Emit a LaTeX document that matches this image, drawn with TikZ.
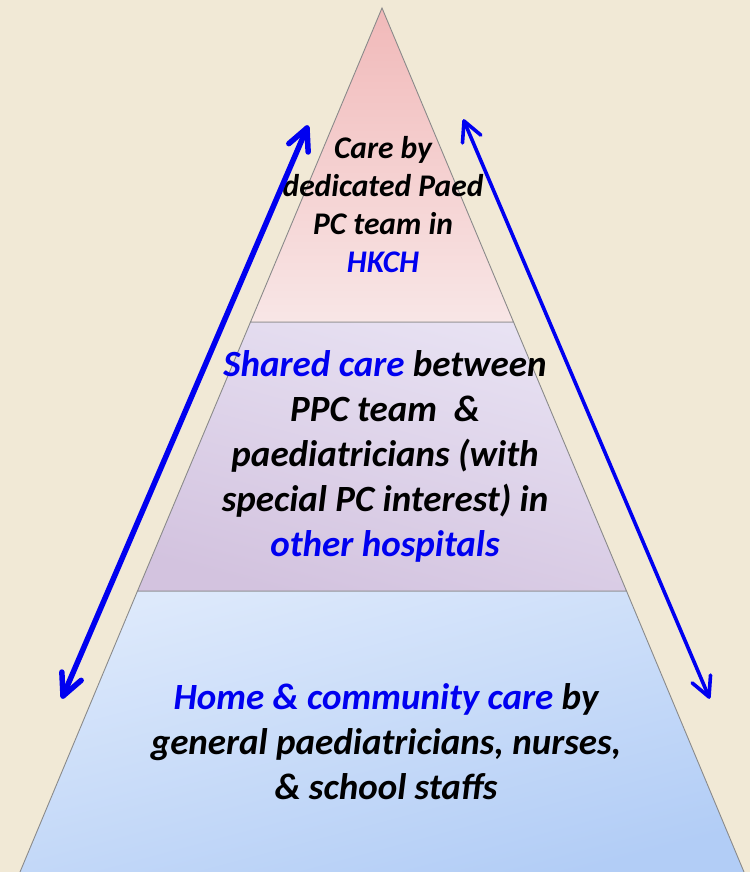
\documentclass[tikz,border=0pt]{standalone}
\usepackage{fontspec}
\setmainfont{Carlito}
\usetikzlibrary{calc}
\definecolor{bg}{HTML}{F1E9D6}
\definecolor{pinkT}{HTML}{F1B9B9}
\definecolor{pinkB}{HTML}{F8E6E6}
\definecolor{lavT}{HTML}{E8E2F3}
\definecolor{lavB}{HTML}{D3C3DF}
\definecolor{bluT}{HTML}{DDE9FB}
\definecolor{bluB}{HTML}{B2CDF6}
\definecolor{edge}{HTML}{8A8A8A}
\definecolor{hl}{HTML}{0000F0}
\tikzset{
  tier/.style={draw=edge, line width=0.9pt},
  bigtxt/.style={align=center, font=\bfseries\itshape\fontsize{37}{45}\selectfont, inner sep=0pt},
  toptxt/.style={align=center, font=\bfseries\itshape\fontsize{31.5}{38}\selectfont, inner sep=0pt},
  arrL/.style={draw=hl, line width=5.5pt, line cap=round, line join=round},
  arrR/.style={draw=hl, line width=3.6pt, line cap=round, line join=round},
}
\begin{document}
\begin{tikzpicture}[x=1pt,y=-1pt]
\useasboundingbox (0,0) rectangle (750,872);
\fill[bg] (0,0) rectangle (750,872);
% tiers
\coordinate (apex) at (382,8);
\coordinate (t1l) at (250.5,322);
\coordinate (t1r) at (513.5,322);
\coordinate (t2l) at (137.5,591);
\coordinate (t2r) at (626.5,591);
\coordinate (t3l) at (20,872);
\coordinate (t3r) at (744,872);
\shade[top color=bluT, bottom color=bluB, shading angle=15] (t2l) -- (t2r) -- (t3r) -- (t3l) -- cycle;
\draw[tier] (t3l) -- (t2l) -- (t2r) -- (t3r);
\shade[top color=lavT, bottom color=lavB, shading angle=-15] (t1l) -- (t1r) -- (t2r) -- (t2l) -- cycle;
\draw[tier] (t1l) -- (t1r) -- (t2r) -- (t2l) -- cycle;
\shade[top color=pinkT, bottom color=pinkB] (apex) -- (t1r) -- (t1l) -- cycle;
\draw[tier] (apex) -- (t1r) -- (t1l) -- cycle;
% texts
\node[toptxt] (top) at (383,205) {Care by\\dedicated Paed\\PC team in\\\textcolor{hl}{HKCH}};
\node[bigtxt] (mid) at (385,456) {\textcolor{hl}{Shared care} between\\PPC team~~\&\\paediatricians (with\\special PC interest) in\\\textcolor{hl}{other hospitals}};
\node[bigtxt] (bot) at (386,742) {\textcolor{hl}{Home \& community care} by\\general paediatricians, nurses,\\\& school staffs};
% arrows
\coordinate (la) at (63,696);
\coordinate (lb) at (307,128);
\coordinate (ra) at (464,121);
\coordinate (rb) at (709,697);
\draw[arrL] (la) -- (lb);
\draw[arrL] ($(la)!24pt!26:(lb)$) -- (la) -- ($(la)!24pt!-26:(lb)$);
\draw[arrL] ($(lb)!24pt!26:(la)$) -- (lb) -- ($(lb)!24pt!-26:(la)$);
\draw[arrR] (ra) -- (rb);
\draw[arrR] ($(ra)!22pt!27:(rb)$) -- (ra) -- ($(ra)!22pt!-27:(rb)$);
\draw[arrR] ($(rb)!22pt!27:(ra)$) -- (rb) -- ($(rb)!22pt!-27:(ra)$);
\end{tikzpicture}
\end{document}
